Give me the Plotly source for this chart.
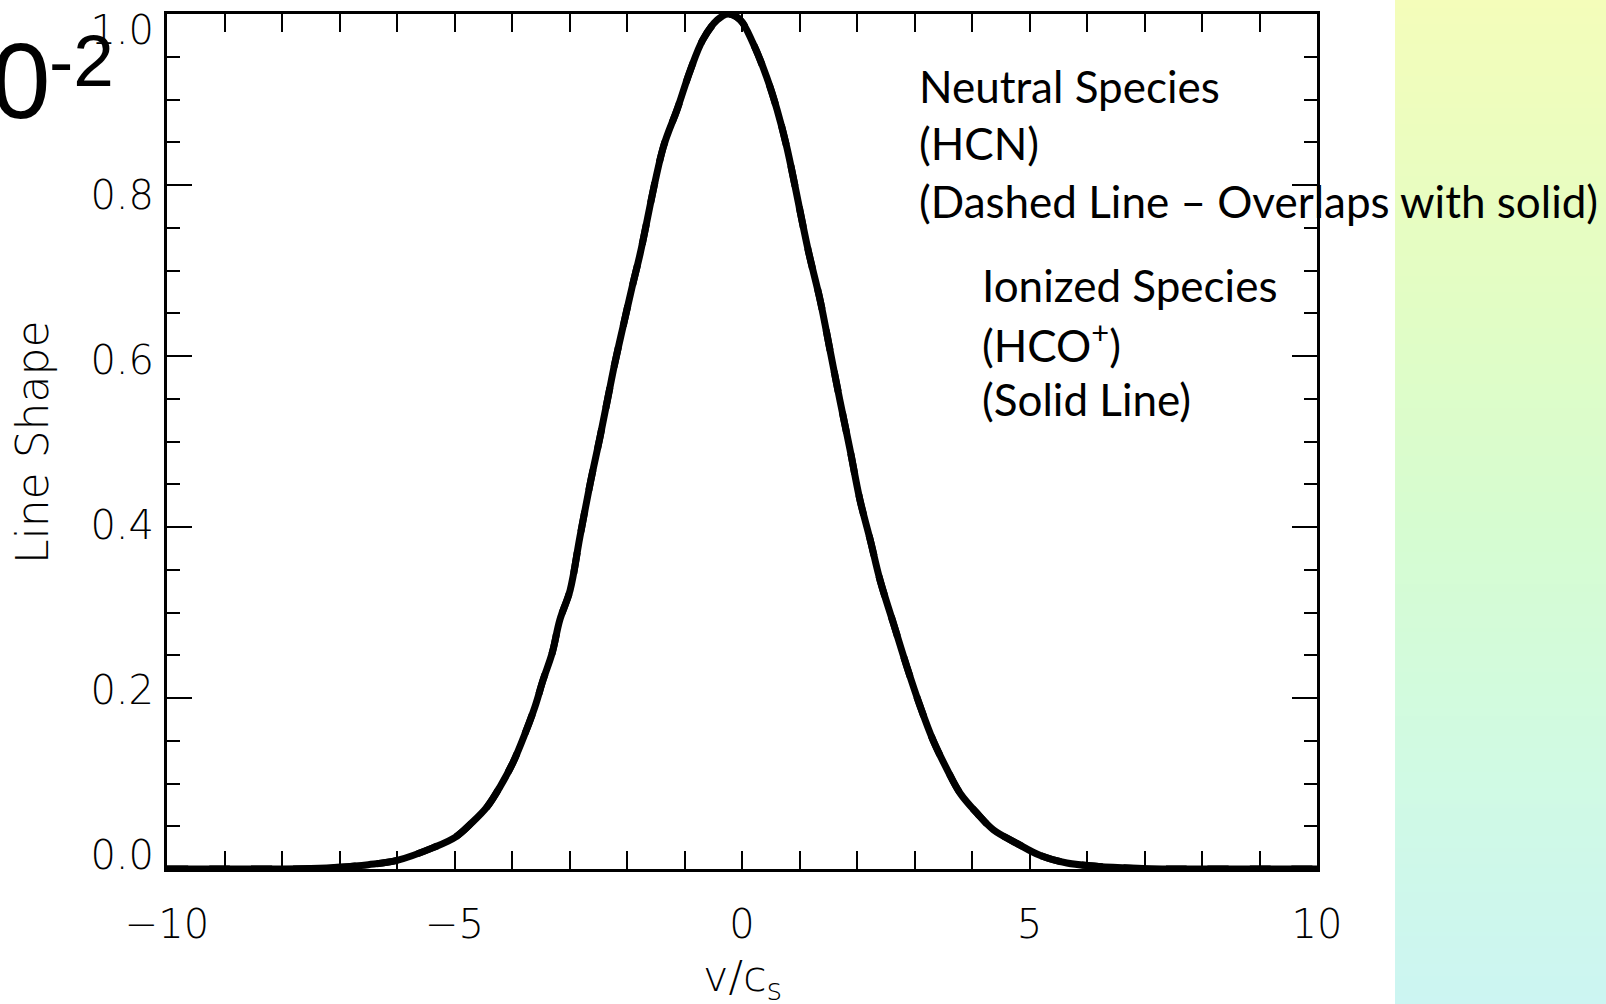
import plotly.graph_objects as go

# Line profile read along v/c_s
v_over_cs = [-10, -9, -8, -7.5, -7, -6.5, -6, -5.37, -4.99, -4.70, -4.43, -4.21,
             -3.98, -3.77, -3.60, -3.46, -3.30, -3.17, -2.99, -2.82, -2.64, -2.47,
             -2.33, -2.21, -2.07, -1.91, -1.77, -1.37, -1.13, -0.90, -0.68, -0.43,
             -0.24, -0.03, 0.19, 0.43, 0.61, 0.78, 1.15, 1.36, 1.53, 1.70,
             1.88, 2.05, 2.23, 2.40, 2.63, 2.87, 3.10, 3.32, 3.57, 3.79, 4.09,
             4.37, 4.78, 5.18, 5.65, 6.2, 6.8, 7.5, 8, 9, 10]
ionized_shape = [0, 0, 0, 0.0005, 0.002, 0.005, 0.010, 0.025, 0.037, 0.054, 0.073,
                 0.096, 0.125, 0.159, 0.190, 0.221, 0.253, 0.291, 0.326, 0.388,
                 0.451, 0.505, 0.552, 0.592, 0.634, 0.681, 0.720, 0.844, 0.888,
                 0.934, 0.970, 0.993, 1.0, 0.993, 0.966, 0.926, 0.888, 0.844,
                 0.724, 0.665, 0.607, 0.549, 0.490, 0.432, 0.385, 0.338, 0.288,
                 0.236, 0.190, 0.151, 0.116, 0.089, 0.065, 0.046, 0.030, 0.016,
                 0.007, 0.003, 0.001, 0, 0, 0, 0]
# The neutral profile coincides with the ionized one
neutral_shape = list(ionized_shape)

x_ticks = [-10, -5, 0, 5, 10]
y_ticks = [0.0, 0.2, 0.4, 0.6, 0.8, 1.0]
y_tick_text = ["0.0", "0.2", "0.4", "0.6", "0.8", "1.0"]

W, H = 1606, 1004
L, R, T, B = 167, 1317, 14, 869          # plot-area edges in pixels
PW, PH = R - L, B - T

def px_x(p):
    return (p - L) / PW

def px_y(p):
    return (B - p) / PH

tick_font = dict(family="DejaVu Sans", size=40, color="black", weight=200)
note_font = dict(family="Lato", size=44, color="black")

fig = go.Figure()
fig.add_trace(go.Scatter(x=v_over_cs, y=neutral_shape, mode="lines",
                         line=dict(color="black", width=7, dash="dash",
                                   shape="spline", smoothing=1.0),
                         name="HCN", showlegend=False, hoverinfo="skip"))
fig.add_trace(go.Scatter(x=v_over_cs, y=ionized_shape, mode="lines",
                         line=dict(color="black", width=7,
                                   shape="spline", smoothing=1.0),
                         name="HCO+", showlegend=False, hoverinfo="skip"))

axis_common = dict(showgrid=False, zeroline=False, showline=True, linecolor="black",
                   linewidth=3, ticks="inside", tickcolor="black", tickwidth=2,
                   mirror="allticks", layer="above traces", automargin=False)

fig.update_layout(
    width=W, height=H,
    margin=dict(l=L, r=W - R, t=T, b=H - B, pad=0, autoexpand=False),
    paper_bgcolor="white", plot_bgcolor="white",
    showlegend=False,
    xaxis=dict(range=[-10, 10], tickvals=x_ticks, ticklen=18,
               minor=dict(dtick=1, ticks="inside", ticklen=9, tickwidth=2,
                          tickcolor="black"),
               tickfont=tick_font, ticklabelstandoff=18, **axis_common),
    yaxis=dict(range=[0, 1], tickvals=y_ticks, ticklen=25, showticklabels=False,
               minor=dict(dtick=0.05, ticks="inside", ticklen=13, tickwidth=2,
                          tickcolor="black"),
               **axis_common),
    # label-only axis for the y tick labels
    yaxis2=dict(overlaying="y", side="left", anchor="x", automargin=False,
                range=[-0.01697, 1.0194], tickvals=y_ticks, ticktext=y_tick_text,
                showgrid=False, zeroline=False, showline=False, ticks="",
                tickfont=tick_font, ticklabelstandoff=12),
)

# invisible point that activates the label axis
fig.add_trace(go.Scatter(x=[0], y=[0], yaxis="y2", mode="markers",
                         marker=dict(opacity=0), showlegend=False, hoverinfo="skip"))

# Gradient side panel built from thin horizontal strips
stops = [(0, (244, 253, 186)), (300, (226, 253, 196)), (520, (214, 252, 208)),
         (780, (208, 250, 228)), (1004, (204, 245, 242))]

def color_at(p):
    p = min(max(p, 0), H)
    for (p0, c0), (p1, c1) in zip(stops[:-1], stops[1:]):
        if p0 <= p <= p1:
            t = (p - p0) / (p1 - p0)
            return "rgb(%d,%d,%d)" % tuple(round(a + (b - a) * t) for a, b in zip(c0, c1))
    return "rgb(%d,%d,%d)" % stops[-1][1]

step = 4
for p in range(-24, H + 24, step):
    fig.add_shape(type="rect", xref="paper", yref="paper",
                  x0=px_x(1395), x1=px_x(W + 10), y0=px_y(p + step + 1), y1=px_y(p),
                  line=dict(width=0), fillcolor=color_at(p + step / 2), layer="below")

# Axis titles
fig.add_annotation(text="Line Shape", xref="paper", yref="paper",
                   x=px_x(32), y=px_y(443), textangle=-90, showarrow=False,
                   font=dict(family="DejaVu Sans", size=44, color="black", weight=200),
                   xanchor="center", yanchor="middle")
fig.add_annotation(text="v/c<sub>s</sub>", xref="paper", yref="paper",
                   x=px_x(742), y=px_y(979), showarrow=False,
                   font=dict(family="DejaVu Sans", size=43, color="black", weight=200),
                   xanchor="center", yanchor="middle")

# Species notes
neutral_lines = ["Neutral Species", "(HCN)", "(Dashed Line – Overlaps with solid)"]
ionized_lines = ["Ionized Species", "(HCO<sup>+</sup>)", "(Solid Line)"]
for i, s in enumerate(neutral_lines):
    fig.add_annotation(text=s, xref="paper", yref="paper", x=px_x(917),
                       y=px_y(86 + 57.5 * i), xanchor="left", yanchor="middle",
                       showarrow=False, font=note_font)
for i, s in enumerate(ionized_lines):
    fig.add_annotation(text=s, xref="paper", yref="paper", x=px_x(980),
                       y=px_y(285 + 57 * i), xanchor="left", yanchor="middle",
                       showarrow=False, font=note_font)

# Exponent fragment at the top-left corner
fig.add_annotation(text="0", xref="paper", yref="paper",
                   x=px_x(53), y=px_y(81), xanchor="right", yanchor="middle",
                   showarrow=False,
                   font=dict(family="Liberation Sans", size=107, color="black"))
fig.add_annotation(text="-2", xref="paper", yref="paper",
                   x=px_x(116), y=px_y(60), xanchor="right", yanchor="middle",
                   showarrow=False,
                   font=dict(family="Liberation Sans", size=73, color="black"))

fig.write_html("out.html")
